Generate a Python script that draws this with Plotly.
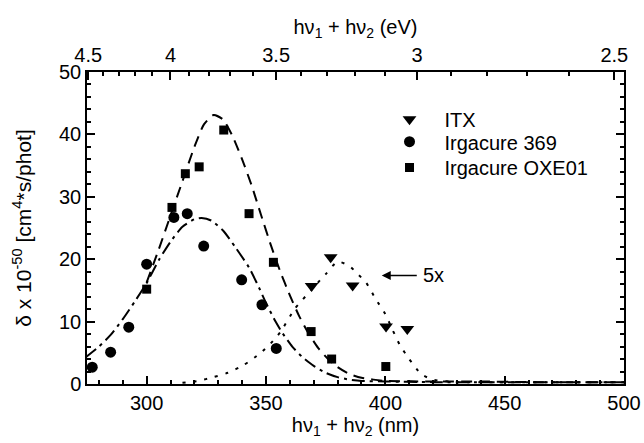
import plotly.graph_objects as go

# ---- data (wavelength in nm, delta x 1e-50 cm^4 s/phot) ----
itx_nm = [369.1, 377.1, 386.3, 400.3, 409.2]
itx_val = [15.7, 20.3, 15.8, 9.2, 8.8]

i369_nm = [277.2, 284.9, 292.5, 300.0, 311.4, 317.0, 323.9, 339.8, 348.3, 354.3]
i369_val = [2.7, 5.1, 9.1, 19.2, 26.7, 27.3, 22.1, 16.7, 12.7, 5.7]

oxe_nm = [300.0, 310.6, 316.2, 322.0, 332.3, 342.9, 353.1, 368.9, 377.5, 400.2]
oxe_val = [15.2, 28.3, 33.7, 34.8, 40.7, 27.3, 19.5, 8.4, 4.0, 2.8]

fit369_nm = [274.5, 280, 285, 290, 295, 300, 305, 310, 315, 320, 323, 327, 332, 337, 343,
             347, 350, 354, 357, 361, 365, 370, 375, 380, 385, 390, 400, 420, 440, 460, 480, 500]
fit369_val = [4.3, 6.0, 7.9, 10.4, 13.2, 16.2, 19.8, 22.8, 25.2, 26.4, 26.6, 26.2, 24.6, 22.0, 18.6,
              15.5, 13.0, 10.0, 8.1, 6.0, 4.4, 2.9, 1.8, 1.1, 0.7, 0.5, 0.4, 0.3, 0.3, 0.3, 0.3, 0.3]

fitoxe_nm = [300, 305, 310, 315, 320, 324, 328, 332, 336, 340, 344, 348, 352, 356, 360, 364, 368,
             372, 376, 380, 385, 390, 395, 400, 420, 440, 460, 480, 500]
fitoxe_val = [16.3, 21.5, 27.0, 32.5, 38.0, 41.6, 43.1, 42.4, 39.7, 36.0, 31.8, 27.0, 22.3, 18.0, 14.2,
              10.8, 8.0, 5.7, 4.0, 2.7, 1.6, 1.0, 0.7, 0.5, 0.4, 0.4, 0.3, 0.3, 0.3]

fititx_nm = [315, 321.6, 328, 334, 340.5, 347.5, 352, 356, 362, 369, 375, 380, 385, 388, 392, 396,
             400, 403, 406, 410, 415, 420, 430, 450, 475, 500]
fititx_val = [0.2, 0.5, 1.1, 1.8, 3.0, 4.9, 6.5, 8.3, 12.0, 15.1, 17.6, 19.6, 18.9, 17.8, 16.2, 13.6,
              11.2, 8.7, 6.3, 4.0, 1.6, 0.7, 0.3, 0.3, 0.3, 0.3]

ev_major = [4.5, 4.0, 3.5, 3.0, 2.5]
ev_major_text = ["4.5", "4", "3.5", "3", "2.5"]
ev_minor = [round(2.5 + 0.1 * k, 1) for k in range(21)]
HC = 1239.84  # eV*nm

arrow_tip = (398.5, 17.4)
arrow_tail = (413.8, 17.4)

FONT = "Liberation Sans, Arial, sans-serif"
FS = 20

fig = go.Figure()

line_common = dict(color="black", width=2, shape="spline", smoothing=0.6)
fig.add_trace(go.Scatter(x=fit369_nm, y=fit369_val, mode="lines", showlegend=False,
                         line=dict(dash="13px,5px,3px,5px", **line_common)))
fig.add_trace(go.Scatter(x=fitoxe_nm, y=fitoxe_val, mode="lines", showlegend=False,
                         line=dict(dash="11px,7px", **line_common)))
fig.add_trace(go.Scatter(x=fititx_nm, y=fititx_val, mode="lines", showlegend=False,
                         line=dict(dash="3px,8px", **line_common)))

fig.add_trace(go.Scatter(x=itx_nm, y=itx_val, mode="markers", name="ITX", legend="legend",
                         marker=dict(symbol="triangle-down", size=12, color="black")))
fig.add_trace(go.Scatter(x=i369_nm, y=i369_val, mode="markers", name="Irgacure 369", legend="legend2",
                         marker=dict(symbol="circle", size=11, color="black")))
fig.add_trace(go.Scatter(x=oxe_nm, y=oxe_val, mode="markers", name="Irgacure OXE01", legend="legend3",
                         marker=dict(symbol="square", size=9, color="black")))

# invisible trace to activate top energy axis
fig.add_trace(go.Scatter(x=[HC / 3.0], y=[-10], xaxis="x2", mode="markers",
                         marker=dict(opacity=0), showlegend=False, hoverinfo="skip"))

fig.add_annotation(x=arrow_tip[0], y=arrow_tip[1], ax=arrow_tail[0], ay=arrow_tail[1],
                   xref="x", yref="y", axref="x", ayref="y", text="", showarrow=True,
                   arrowhead=2, arrowsize=1.2, arrowwidth=1.5, arrowcolor="black")
fig.add_annotation(x=arrow_tail[0], y=arrow_tail[1], xref="x", yref="y", text="5x",
                   showarrow=False, xanchor="left", xshift=3, font=dict(size=FS, color="black", family=FONT))

axis_common = dict(showline=True, linecolor="black", linewidth=1.5, ticks="inside", ticklen=8,
                   tickwidth=1.5, tickcolor="black", showgrid=False, zeroline=False,
                   tickfont=dict(size=FS, color="black", family=FONT))

leg_common = dict(x=0.5354, xanchor="left", yanchor="middle", bgcolor="rgba(0,0,0,0)",
                  itemwidth=60, font=dict(size=FS, family=FONT, color="black"))

fig.update_layout(
    width=644, height=443,
    margin=dict(l=87, r=20, t=72, b=59, autoexpand=False),
    paper_bgcolor="white", plot_bgcolor="white",
    font=dict(family=FONT, size=FS, color="black"),
    xaxis=dict(range=[275, 500], tickmode="linear", tick0=300, dtick=50,
               minor=dict(ticks="inside", ticklen=4, tickwidth=1.5, tickcolor="black", dtick=10, tick0=300),
               title=dict(text="hν<sub>1</sub> + hν<sub>2</sub> (nm)", standoff=2,
                          font=dict(size=FS, family=FONT, color="black")),
               **axis_common),
    xaxis2=dict(range=[275, 500], overlaying="x", side="top", anchor="y",
                tickmode="array", tickvals=[HC / e for e in ev_major], ticktext=ev_major_text,
                minor=dict(ticks="inside", ticklen=4, tickwidth=1.5, tickcolor="black",
                           tickmode="array", tickvals=[HC / e for e in ev_minor]),
                title=dict(text="hν<sub>1</sub> + hν<sub>2</sub> (eV)", standoff=4,
                           font=dict(size=FS, family=FONT, color="black")),
                **axis_common),
    yaxis=dict(range=[0, 50], tickmode="linear", tick0=0, dtick=10, mirror="ticks",
               minor=dict(ticks="inside", ticklen=4, tickwidth=1.5, tickcolor="black", dtick=2, tick0=0),
               title=dict(text="δ x 10<sup>-50</sup> [cm<sup>4</sup>*s/phot]", standoff=22,
                          font=dict(size=21, family=FONT, color="black")),
               **axis_common),
    legend=dict(y=0.8484, **leg_common),
    legend2=dict(y=0.7766, **leg_common),
    legend3=dict(y=0.6939, **leg_common),
)

fig.write_html("out.html")
